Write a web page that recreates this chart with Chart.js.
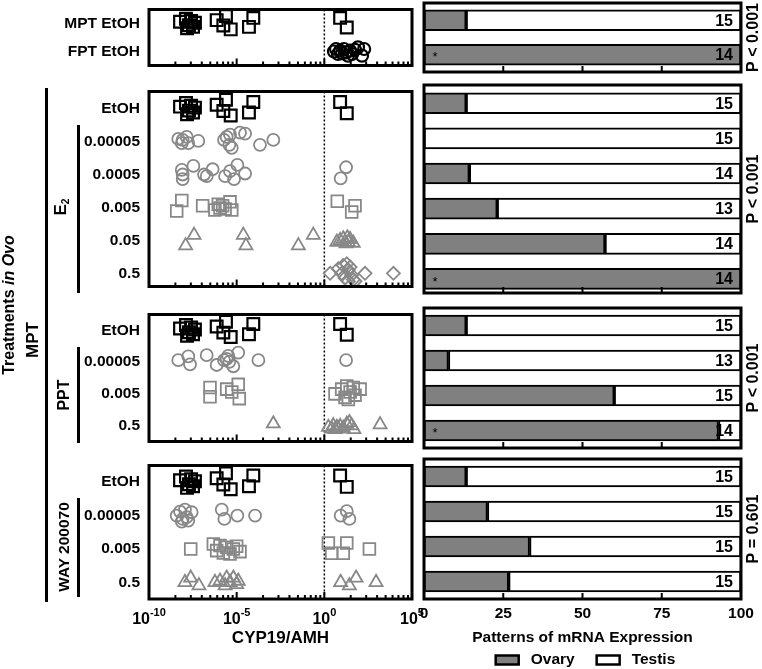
<!DOCTYPE html>
<html>
<head>
<meta charset="utf-8">
<script src="https://cdn.jsdelivr.net/npm/chart.js@4.4.1/dist/chart.umd.min.js"></script>
<style>
  body { margin: 0; background: #fff; width: 762px; height: 669px; position: relative; overflow: hidden;
         font-family: "Liberation Sans", Arial, sans-serif; }
  canvas { position: absolute; }
  .rot { position: absolute; font-weight: bold; color: #000; white-space: nowrap;
         transform: translate(-50%, -50%) rotate(-90deg); }
  .rot sub { font-size: 60%; vertical-align: -0.25em; }
  .line { position: absolute; background: #000; width: 3px; }
</style>
</head>
<body>
<canvas id="s0"></canvas><canvas id="s1"></canvas><canvas id="s2"></canvas><canvas id="s3"></canvas>
<canvas id="b0"></canvas><canvas id="b1"></canvas><canvas id="b2"></canvas><canvas id="b3"></canvas>

<div class="line" style="left:45px;top:88px;height:514px"></div>
<div class="line" style="left:77px;top:125px;height:168px"></div>
<div class="line" style="left:77px;top:347px;height:96px"></div>
<div class="line" style="left:77px;top:498px;height:99px"></div>
<div class="rot" style="left:9px;top:305px;font-size:16px">Treatments <i>in Ovo</i></div>
<div class="rot" style="left:33px;top:340px;font-size:17px">MPT</div>
<div class="rot" style="left:61px;top:207px;font-size:17px">E<sub>2</sub></div>
<div class="rot" style="left:64px;top:395px;font-size:16px">PPT</div>
<div class="rot" style="left:64px;top:547px;font-size:15.5px">WAY 200070</div>

<script>
// ---- row labels ----
const topRows = ['MPT EtOH', 'FPT EtOH'];
const e2Rows = ['EtOH', '0.00005', '0.0005', '0.005', '0.05', '0.5'];
const pptRows = ['EtOH', '0.00005', '0.005', '0.5'];
const wayRows = ['EtOH', '0.00005', '0.005', '0.5'];

// ---- CYP19/AMH per embryo (log10), with vertical jitter inside its row ----
const etohLog = [-8.23, -7.89, -7.83, -7.72, -7.6, -7.49, -7.38, -6.14, -5.76, -5.61, -5.34, -4.3, -4.05, 0.9, 1.28];
const etohJit = [-0.06, -0.17, 0.17, 0.06, -0.09, 0.12, -0.03, -0.12, 0.07, -0.27, 0.21, 0.12, -0.2, -0.2, 0.14];
const fptLog = [0.55, 0.67, 0.78, 0.9, 1.01, 1.12, 1.24, 1.35, 1.47, 1.58, 1.75, 1.92, 2.15, 2.27];
const fptJit = [0, -0.09, 0.09, -0.03, 0.06, -0.09, 0.03, 0.15, -0.03, 0.09, -0.06, -0.15, 0.15, -0.09];

const e2aLog = [-8.33, -8.13, -8.08, -7.85, -7.76, -7.19, -5.72, -5.57, -5.42, -5.38, -5.28, -4.81, -4.52, -3.67, -2.91];
const e2aJit = [-0.08, 0.05, -0.05, -0.14, 0.05, -0.02, -0.05, -0.14, 0.1, -0.21, 0.19, -0.27, -0.24, 0.1, -0.05];
const e2bLog = [-8.13, -8.08, -8.08, -7.47, -6.86, -6.71, -6.37, -5.66, -5.38, -5.15, -4.96, -4.52, 0.93, 1.24];
const e2bJit = [-0.14, 0, 0.14, -0.26, 0, 0.05, -0.16, 0.05, -0.1, 0.14, -0.29, -0.03, 0.12, -0.22];
const e2cLog = [-8.42, -8.13, -6.94, -6.24, -6.05, -5.95, -5.8, -5.66, -5.38, -5.28, 0.74, 1.56, 1.75];
const e2cJit = [0.11, -0.21, -0.05, 0.08, -0.1, 0.02, -0.05, 0.05, -0.17, 0.08, -0.19, 0.14, -0.05];
const e2dLog = [-7.91, -7.43, -4.62, -4.47, -1.48, -0.63, 0.71, 0.9, 1.08, 1.24, 1.31, 1.37, 1.47, 1.65];
const e2dJit = [0.16, -0.16, -0.16, 0.16, 0.16, -0.16, 0.05, 0, -0.05, 0.1, -0.08, 0.05, -0.03, 0.08];
const e2eLog = [0.33, 0.8, 0.99, 1.08, 1.18, 1.28, 1.37, 1.37, 1.47, 1.56, 1.65, 1.75, 2.32, 3.94];
const e2eJit = [0, -0.14, 0, -0.24, 0.14, -0.29, -0.1, 0.24, -0.19, 0.05, 0.19, 0.24, 0, 0];

const pptaLog = [-8.33, -7.76, -7.66, -6.71, -6.14, -5.72, -5.57, -5.48, -5.42, -5.19, -4.91, -3.76, 1.24];
const pptaJit = [-0.06, -0.18, 0.07, -0.22, 0.09, -0.06, -0.1, -0.2, -0.01, 0.13, -0.3, -0.06, -0.06];
const pptbLog = [-6.52, -6.52, -5.57, -5.28, -4.91, -4.85, 0.61, 0.99, 1.18, 1.28, 1.37, 1.47, 1.65, 1.75, 2.04];
const pptbJit = [-0.2, 0.09, -0.15, -0.06, -0.3, 0.15, 0, -0.15, 0.11, -0.25, 0.18, -0.06, -0.2, 0.04, -0.15];
const pptcLog = [-2.91, 0.23, 0.42, 0.51, 0.61, 0.71, 0.8, 0.9, 1.08, 1.28, 1.43, 1.56, 1.69, 3.18];
const pptcJit = [-0.06, 0.05, 0.1, 0, 0.12, 0.05, 0.1, 0.02, 0.08, -0.05, -0.1, 0, 0.12, -0.03];

const wayaLog = [-8.42, -8.23, -8.13, -8.08, -7.95, -7.85, -7.76, -7.57, -5.85, -5.7, -4.96, -3.95, 0.93, 1.28, 1.43];
const wayaJit = [0, -0.12, 0.18, 0.1, -0.18, 0.05, 0.15, -0.1, -0.18, 0.1, 0, 0, 0, -0.13, 0.1];
const waybLog = [-7.62, -6.33, -6.14, -5.95, -5.76, -5.57, -5.38, -5.19, -5.0, -4.81, 0.23, 0.42, 1.08, 1.28, 2.57];
const waybJit = [0, -0.15, 0.05, -0.1, 0.12, -0.05, 0.15, 0, -0.08, 0.08, -0.18, 0.13, 0.13, -0.18, 0];
const waycLog = [-7.95, -7.62, -7.15, -6.24, -5.95, -5.66, -5.57, -5.38, -5.19, -5.0, -4.91, 0.93, 1.43, 1.81, 2.95];
const waycJit = [0, -0.13, 0.1, 0, -0.04, 0.1, -0.13, 0, -0.13, 0.06, -0.04, 0, 0.1, -0.13, 0];

// ---- percent of embryos with ovary pattern, and group sizes ----
const topOvary = [13.3, 100];
const e2Ovary = [13.3, 0, 14.3, 23.1, 57.1, 100];
const pptOvary = [13.3, 7.7, 60, 92.9];
const wayOvary = [13.3, 20, 33.3, 26.7];
const topN = [15, 14];
const e2N = [15, 15, 14, 13, 14, 14];
const pptN = [15, 13, 15, 14];
const wayN = [15, 15, 15, 15];
const topStar = [false, true];
const e2Star = [false, false, false, false, false, true];
const pptStar = [false, false, false, true];
const wayStar = [false, false, false, false];
const pValues = ['P < 0.001', 'P < 0.001', 'P < 0.001', 'P = 0.601'];

const xTickExp = [-10, -5, 0, 5];
const pctTicks = [0, 25, 50, 75, 100];

// ---- layout / styles ----
const FONT = '"Liberation Sans", Arial, sans-serif';
Chart.defaults.font.family = FONT;
Chart.defaults.color = '#000';
const GREY = '#888888';
const panelBox = [
  { top: 3, bottom: 72, yMin: -0.5, yMax: 1.5 },
  { top: 85, bottom: 293, yMin: -0.52, yMax: 5.4 },
  { top: 308, bottom: 448, yMin: -0.5, yMax: 3.5 },
  { top: 459, bottom: 599, yMin: -0.5, yMax: 3.5 }
];
const marks = {
  ctl: { pointStyle: 'rect', color: '#000', r: 8.3, bw: 2.2 },
  fpt: { pointStyle: 'circle', color: '#000', r: 6, bw: 2.2 },
  circ: { pointStyle: 'circle', color: GREY, r: 6, bw: 1.8 },
  sq: { pointStyle: 'rect', color: GREY, r: 8.3, bw: 1.8 },
  tri: { pointStyle: 'triangle', color: GREY, r: 7.5, bw: 1.8 },
  dia: { pointStyle: 'rectRot', color: GREY, r: 6.5, bw: 1.8 }
};

const scatterPanels = [
  { rows: topRows, sets: [[etohLog, etohJit, 'ctl'], [fptLog, fptJit, 'fpt']] },
  { rows: e2Rows, sets: [[etohLog, etohJit, 'ctl'], [e2aLog, e2aJit, 'circ'], [e2bLog, e2bJit, 'circ'],
                         [e2cLog, e2cJit, 'sq'], [e2dLog, e2dJit, 'tri'], [e2eLog, e2eJit, 'dia']] },
  { rows: pptRows, sets: [[etohLog, etohJit, 'ctl'], [pptaLog, pptaJit, 'circ'], [pptbLog, pptbJit, 'sq'],
                          [pptcLog, pptcJit, 'tri']] },
  { rows: wayRows, sets: [[etohLog, etohJit, 'ctl'], [wayaLog, wayaJit, 'circ'], [waybLog, waybJit, 'sq'],
                          [waycLog, waycJit, 'tri']] }
];
const barPanels = [
  { ovary: topOvary, n: topN, star: topStar },
  { ovary: e2Ovary, n: e2N, star: e2Star },
  { ovary: pptOvary, n: pptN, star: pptStar },
  { ovary: wayOvary, n: wayN, star: wayStar }
];

// frame, dotted line at 1, inside ticks and (bottom panel) superscript labels
const scatterDecor = {
  id: 'scatterDecor',
  beforeDatasetsDraw(chart) {
    const { ctx, chartArea: a, scales: { x } } = chart;
    const px = x.getPixelForValue(1);
    ctx.save();
    ctx.strokeStyle = '#000';
    ctx.lineWidth = 1.5;
    ctx.setLineDash([2, 2]);
    ctx.beginPath(); ctx.moveTo(px, a.top); ctx.lineTo(px, a.bottom); ctx.stroke();
    ctx.restore();
  },
  afterDatasetsDraw(chart, args, opts) {
    const { ctx, chartArea: a, scales: { x } } = chart;
    ctx.save();
    ctx.strokeStyle = '#000';
    ctx.lineWidth = 2;
    for (let i = 0; i < xTickExp.length - 1; i++) {
      const e = xTickExp[i], step = xTickExp[i + 1] - e;
      for (let k = 1; k <= 9; k++) {
        const p = x.getPixelForValue(Math.pow(10, e) * Math.pow(k, step));
        const len = k === 1 ? 7 : 4;
        ctx.beginPath(); ctx.moveTo(p, a.bottom); ctx.lineTo(p, a.bottom - len); ctx.stroke();
      }
    }
    ctx.lineWidth = 3;
    ctx.strokeRect(a.left, a.top, a.right - a.left, a.bottom - a.top);
    if (opts.labels) {
      ctx.fillStyle = '#000';
      ctx.textBaseline = 'alphabetic';
      ctx.textAlign = 'left';
      xTickExp.forEach(e => {
        const p = x.getPixelForValue(Math.pow(10, e));
        ctx.font = 'bold 16px ' + FONT;
        const w1 = ctx.measureText('10').width;
        ctx.font = 'bold 11px ' + FONT;
        const w2 = ctx.measureText(String(e)).width;
        const s = p - (w1 + w2) / 2;
        ctx.font = 'bold 16px ' + FONT;
        ctx.fillText('10', s, a.bottom + 25);
        ctx.font = 'bold 11px ' + FONT;
        ctx.fillText(String(e), s + w1, a.bottom + 17);
      });
      ctx.font = 'bold 17px ' + FONT;
      ctx.textAlign = 'center';
      ctx.textBaseline = 'middle';
      ctx.fillText('CYP19/AMH', (a.left + a.right) / 2, a.bottom + 39);
    }
    ctx.restore();
  }
};

// frame, inside ticks, counts, asterisks, P value, (bottom panel) title and legend
const barDecor = {
  id: 'barDecor',
  afterDatasetsDraw(chart, args, opts) {
    const { ctx, chartArea: a, scales: { x, y } } = chart;
    ctx.save();
    ctx.strokeStyle = '#000';
    ctx.lineWidth = 2;
    pctTicks.slice(1, -1).forEach(v => {
      const p = x.getPixelForValue(v);
      ctx.beginPath(); ctx.moveTo(p, a.bottom); ctx.lineTo(p, a.bottom - 6); ctx.stroke();
    });
    ctx.lineWidth = 3;
    ctx.strokeRect(a.left, a.top, a.right - a.left, a.bottom - a.top);
    ctx.fillStyle = '#000';
    ctx.font = 'bold 16px ' + FONT;
    ctx.textAlign = 'right';
    ctx.textBaseline = 'middle';
    opts.n.forEach((n, i) => ctx.fillText(String(n), x.getPixelForValue(100) - 8, y.getPixelForValue(i) + 1));
    ctx.font = '13px ' + FONT;
    ctx.textAlign = 'center';
    opts.star.forEach((s, i) => { if (s) ctx.fillText('*', x.getPixelForValue(0) + 11, y.getPixelForValue(i) + 3); });
    ctx.save();
    ctx.translate(a.right + 13, (a.top + a.bottom) / 2);
    ctx.rotate(-Math.PI / 2);
    ctx.font = 'bold 16px ' + FONT;
    ctx.fillText(opts.p, 0, 0);
    ctx.restore();
    if (opts.bottom) {
      const cx = (a.left + a.right) / 2;
      ctx.font = 'bold 15.5px ' + FONT;
      ctx.fillText('Patterns of mRNA Expression', cx, a.bottom + 39);
      const items = chart.data.datasets.map(d => ({ label: d.label, fill: d.backgroundColor }));
      const boxW = 23, boxH = 9, gap = 12, spacing = 22;
      const widths = items.map(it => boxW + gap + ctx.measureText(it.label).width);
      let sx = cx + 3 - (widths.reduce((s, w) => s + w, 0) + spacing) / 2;
      const ly = a.bottom + 61;
      items.forEach((it, i) => {
        ctx.fillStyle = it.fill;
        ctx.fillRect(sx, ly - boxH / 2, boxW, boxH);
        ctx.lineWidth = 2.5;
        ctx.strokeRect(sx, ly - boxH / 2, boxW, boxH);
        ctx.fillStyle = '#000';
        ctx.textAlign = 'left';
        ctx.fillText(it.label, sx + boxW + gap, ly);
        sx += widths[i] + spacing;
      });
    }
    ctx.restore();
  }
};

function place(canvas, left, top, w, h) {
  canvas.width = w; canvas.height = h;
  canvas.style.left = left + 'px'; canvas.style.top = top + 'px';
  canvas.style.width = w + 'px'; canvas.style.height = h + 'px';
}

scatterPanels.forEach((panel, pi) => {
  const box = panelBox[pi];
  const last = pi === scatterPanels.length - 1;
  const padBottom = last ? 669 - box.bottom : 4;
  const cv = document.getElementById('s' + pi);
  place(cv, 0, box.top - 4, 440, box.bottom - box.top + 4 + padBottom);
  const datasets = panel.sets.map(([logs, jit, m], row) => ({
    data: logs.map((v, i) => ({ x: Math.pow(10, v), y: row + jit[i] })),
    pointStyle: marks[m].pointStyle,
    pointRadius: marks[m].r,
    pointBorderWidth: marks[m].bw,
    pointBorderColor: marks[m].color,
    pointBackgroundColor: 'rgba(0,0,0,0)',
    showLine: false
  }));
  new Chart(cv, {
    type: 'scatter',
    data: { datasets },
    options: {
      responsive: false,
      animation: false,
      layout: { padding: { top: 4, bottom: padBottom, left: 0, right: 28 } },
      plugins: { legend: { display: false }, tooltip: { enabled: false }, scatterDecor: { labels: last } },
      scales: {
        x: { type: 'logarithmic', min: 1e-10, max: 1e5, display: false },
        y: {
          type: 'linear', min: box.yMin, max: box.yMax, reverse: true,
          grid: { display: false, drawTicks: false }, border: { display: false },
          afterBuildTicks: axis => { axis.ticks = panel.rows.map((_, i) => ({ value: i })); },
          ticks: { autoSkip: false, padding: 9, font: { size: 15.5, weight: 'bold' }, color: '#000',
                   callback: v => panel.rows[v] },
          afterFit: s => { s.width = 149; s.paddingTop = 0; s.paddingBottom = 0; }
        }
      }
    },
    plugins: [scatterDecor]
  });
});

barPanels.forEach((panel, pi) => {
  const box = panelBox[pi];
  const last = pi === barPanels.length - 1;
  const cv = document.getElementById('b' + pi);
  const h = last ? 669 - (box.top - 4) : box.bottom - box.top + 8;
  place(cv, 400, box.top - 4, 362, h);
  const barStyle = { borderColor: '#000', borderWidth: 2, borderSkipped: false, barThickness: 21 };
  new Chart(cv, {
    type: 'bar',
    data: {
      datasets: [
        Object.assign({ label: 'Ovary', backgroundColor: '#808080',
          data: panel.ovary.map((v, i) => ({ x: v, y: i })) }, barStyle),
        Object.assign({ label: 'Testis', backgroundColor: '#ffffff',
          data: panel.ovary.map((v, i) => ({ x: 100 - v, y: i })) }, barStyle)
      ]
    },
    options: {
      indexAxis: 'y',
      responsive: false,
      animation: false,
      layout: { padding: { top: 4, bottom: last ? 0 : 4, left: 24, right: 21 } },
      plugins: {
        legend: { display: false }, tooltip: { enabled: false },
        barDecor: { n: panel.n, star: panel.star, p: pValues[pi], bottom: last }
      },
      scales: {
        y: { type: 'linear', min: box.yMin, max: box.yMax, reverse: true, offset: false, stacked: true, display: false },
        x: {
          min: 0, max: 100, stacked: true, display: last,
          grid: { display: false, drawTicks: false }, border: { display: false },
          afterBuildTicks: axis => { axis.ticks = pctTicks.map(v => ({ value: v })); },
          ticks: { padding: 5, font: { size: 15.5, weight: 'bold' }, color: '#000', maxRotation: 0 },
          afterFit: s => { s.height = last ? 70 : 0; s.paddingLeft = 0; s.paddingRight = 0; }
        }
      }
    },
    plugins: [barDecor]
  });
});
</script>
</body>
</html>
